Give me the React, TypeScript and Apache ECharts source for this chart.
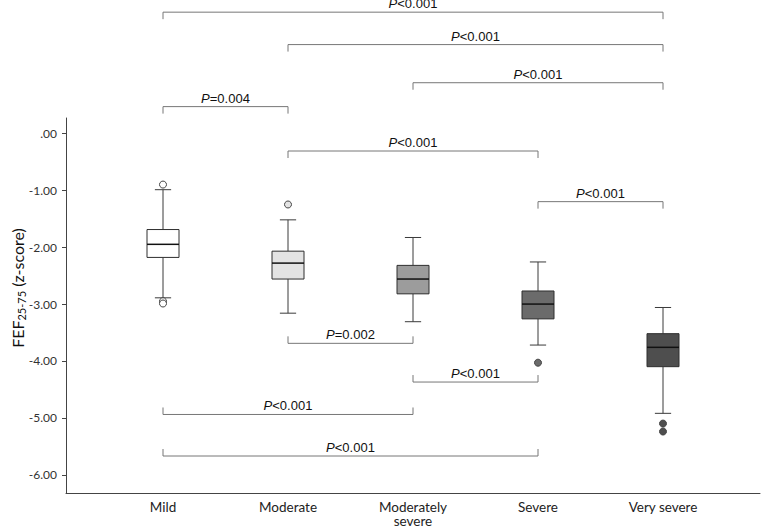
import React, { useEffect, useRef } from "react";
import * as echarts from "echarts";

const categories = ["Mild", "Moderate", "Moderately\nsevere", "Severe", "Very severe"];
const lowerWhisker = [-2.89, -3.16, -3.31, -3.72, -4.92];
const q1 = [-2.18, -2.56, -2.82, -3.26, -4.10];
const median = [-1.95, -2.28, -2.56, -3.0, -3.76];
const q3 = [-1.69, -2.07, -2.32, -2.77, -3.52];
const upperWhisker = [-0.99, -1.52, -1.83, -2.26, -3.06];
const boxFill = ["#ffffff", "#e3e3e3", "#9c9c9c", "#6b6b6b", "#4e4e4e"];

const outlierGroup = [0, 0, 0, 1, 3, 4, 4];
const outlierValue = [-0.9, -2.95, -2.99, -1.25, -4.03, -5.1, -5.24];

const yTicks = [-6, -5, -4, -3, -2, -1, 0];

const bracketFrom = [0, 1, 2, 0, 1, 3, 1, 2, 0, 0];
const bracketTo = [4, 4, 4, 1, 3, 4, 2, 3, 2, 3];
const bracketLevel = [2.13, 1.56, 0.89, 0.47, -0.31, -1.2, -3.69, -4.37, -4.94, -5.67];
const bracketLabel = ["P<0.001", "P<0.001", "P<0.001", "P=0.004", "P<0.001", "P<0.001", "P=0.002", "P<0.001", "P<0.001", "P<0.001"];
const bracketTicksDown = [1, 1, 1, 1, 1, 1, 0, 0, 0, 0];

export default function App() {
  const ref = useRef<HTMLDivElement>(null);
  useEffect(() => {
    document.body.style.margin = "0";
    const chart = echarts.init(ref.current!, undefined, { renderer: "svg" });
    const boxData = categories.map((_, i) => [i, lowerWhisker[i], q1[i], median[i], q3[i], upperWhisker[i]]);
    const outlierData = outlierGroup.map((g, i) => ({
      value: [g, outlierValue[i]],
      itemStyle: { color: boxFill[g] },
    }));
    const bracketData = bracketFrom.map((f, i) => [f, bracketTo[i], bracketLevel[i], bracketTicksDown[i], i]);
    const lineColor = "#3a3a3a";

    chart.setOption({
      animation: false,
      backgroundColor: "#ffffff",
      grid: { left: 66, right: 1, top: 118, bottom: 35, containLabel: false, outerBoundsMode: "none" },
      xAxis: {
        type: "value",
        min: -0.776,
        max: 4.776,
        splitLine: { show: false },
        axisLine: { show: true, onZero: false, lineStyle: { color: "#444", width: 1 } },
        axisTick: { show: false },
        axisLabel: {
          customValues: [0, 1, 2, 3, 4],
          formatter: (v: number) => categories[Math.round(v)] ?? "",
          color: "#222",
          fontFamily: "Lato",
          fontSize: 13.5,
          margin: 7,
          lineHeight: 14,
        },
      },
      yAxis: {
        type: "value",
        min: -6.32,
        max: 0.27,
        splitLine: { show: false },
        axisLine: { show: true, onZero: false, lineStyle: { color: "#444", width: 1 } },
        axisTick: { show: true, length: 4, customValues: yTicks, lineStyle: { color: "#444" } },
        axisLabel: {
          customValues: yTicks,
          formatter: (v: number) => (Math.abs(v) < 1e-9 ? ".00" : v.toFixed(2)),
          color: "#333",
          fontFamily: "Lato",
          fontSize: 12,
          margin: 9,
        },
      },
      graphic: [
        {
          type: "text",
          x: 17,
          y: 288,
          rotation: Math.PI / 2,
          style: {
            text: "{a|FEF}{b|25-75}{a| (z-score)}",
            align: "center",
            verticalAlign: "middle",
            fill: "#111",
            rich: {
              a: { fontFamily: "Lato", fontSize: 16, lineHeight: 20, fill: "#111" },
              b: { fontFamily: "Lato", fontSize: 11, lineHeight: 12, verticalAlign: "bottom", fill: "#111" },
            },
          },
        },
      ],
      series: [
        {
          type: "custom",
          clip: false,
          data: boxData,
          encode: { x: 0, y: [1, 2, 3, 4, 5] },
          renderItem: (params: any, api: any) => {
            const i = api.value(0);
            const pLow = api.coord([i, api.value(1)]);
            const pQ1 = api.coord([i, api.value(2)]);
            const pMed = api.coord([i, api.value(3)]);
            const pQ3 = api.coord([i, api.value(4)]);
            const pHigh = api.coord([i, api.value(5)]);
            const unit = api.size([1, 0])[0];
            const bw = unit * 0.256;
            const cw = unit * 0.13;
            const cx = pMed[0];
            const ls = { stroke: lineColor, lineWidth: 1 };
            return {
              type: "group",
              children: [
                { type: "line", shape: { x1: cx, y1: pLow[1], x2: cx, y2: pQ1[1] }, style: ls },
                { type: "line", shape: { x1: cx, y1: pQ3[1], x2: cx, y2: pHigh[1] }, style: ls },
                { type: "line", shape: { x1: cx - cw / 2, y1: pLow[1], x2: cx + cw / 2, y2: pLow[1] }, style: ls },
                { type: "line", shape: { x1: cx - cw / 2, y1: pHigh[1], x2: cx + cw / 2, y2: pHigh[1] }, style: ls },
                {
                  type: "rect",
                  shape: { x: cx - bw / 2, y: pQ3[1], width: bw, height: pQ1[1] - pQ3[1] },
                  style: { fill: boxFill[i], stroke: "#2e2e2e", lineWidth: 1 },
                },
                { type: "line", shape: { x1: cx - bw / 2, y1: pMed[1], x2: cx + bw / 2, y2: pMed[1] }, style: { stroke: "#111", lineWidth: 1.5 } },
              ],
            };
          },
          z: 2,
        },
        {
          type: "scatter",
          data: outlierData,
          symbol: "circle",
          symbolSize: 7,
          itemStyle: { borderColor: "#444", borderWidth: 1, opacity: 1 },
          z: 3,
        },
        {
          type: "custom",
          clip: false,
          data: bracketData,
          encode: { x: [0, 1], y: 2 },
          renderItem: (params: any, api: any) => {
            const a = api.coord([api.value(0), api.value(2)]);
            const b = api.coord([api.value(1), api.value(2)]);
            const down = api.value(3) === 1;
            const idx = api.value(4);
            const t = 7;
            const dy = down ? t : -t;
            const label = bracketLabel[idx];
            const ls = { stroke: "#777", lineWidth: 1 };
            return {
              type: "group",
              children: [
                { type: "line", shape: { x1: a[0], y1: a[1], x2: b[0], y2: b[1] }, style: ls },
                { type: "line", shape: { x1: a[0], y1: a[1], x2: a[0], y2: a[1] + dy }, style: ls },
                { type: "line", shape: { x1: b[0], y1: b[1], x2: b[0], y2: b[1] + dy }, style: ls },
                {
                  type: "text",
                  x: (a[0] + b[0]) / 2,
                  y: a[1] - 2,
                  style: {
                    text: "{i|" + label.charAt(0) + "}{n|" + label.slice(1) + "}",
                    align: "center",
                    verticalAlign: "bottom",
                    rich: {
                      i: { fontFamily: "Liberation Sans", fontStyle: "italic", fontSize: 13, fill: "#111" },
                      n: { fontFamily: "Liberation Sans", fontSize: 13, fill: "#111" },
                    },
                  },
                },
              ],
            };
          },
          z: 4,
        },
      ],
    });
    return () => chart.dispose();
  }, []);
  return <div ref={ref} style={{ width: 761, height: 528 }} />;
}
